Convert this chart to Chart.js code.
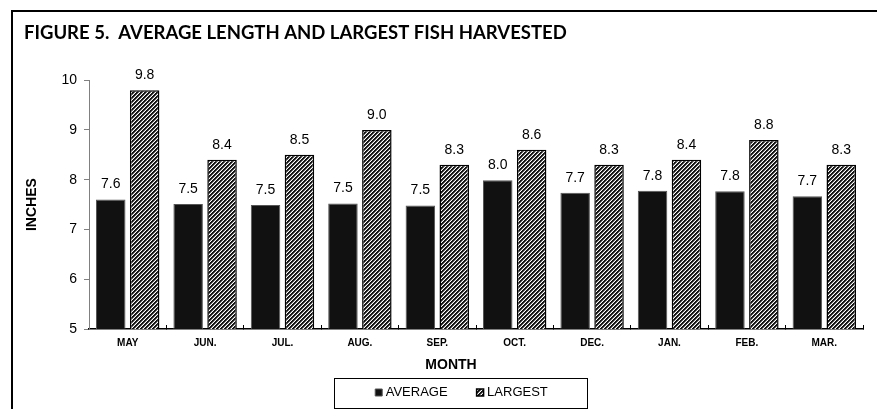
<!DOCTYPE html>
<html>
<head>
<meta charset="utf-8">
<script src="https://cdn.jsdelivr.net/npm/chart.js@4.4.1/dist/chart.umd.min.js"></script>
<style>
  html, body { margin: 0; padding: 0; background: #fff; overflow: hidden; }
  #wrap { position: relative; width: 877px; height: 409px; }
  #frame { position: absolute; left: 11px; top: 10px; width: 900px; height: 440px; border: 2px solid #000; }
  canvas { position: absolute; left: 0; top: 0; }
</style>
</head>
<body>
<div id="wrap">
  <div id="frame"></div>
  <canvas id="graf" width="877" height="409"></canvas>
</div>
<script>
// months on the x axis
const months = ["MAY", "JUN.", "JUL.", "AUG.", "SEP.", "OCT.", "DEC.", "JAN.", "FEB.", "MAR."];
// average length, inches
const average = [7.60, 7.51, 7.49, 7.52, 7.48, 7.99, 7.74, 7.78, 7.77, 7.67];
// largest fish, inches
const largest = [9.8, 8.4, 8.5, 9.0, 8.3, 8.6, 8.3, 8.4, 8.8, 8.3];
// y axis ticks
const yTicks = [5, 6, 7, 8, 9, 10];

const arial = "'Liberation Sans', Arial, sans-serif";
Chart.defaults.font.family = arial;
Chart.defaults.color = '#000';

const ctx = document.getElementById('graf').getContext('2d');

// diagonal hatch for the LARGEST bars
function hatch() {
  const shades = [20, 20, 120, 255];
  const c = document.createElement('canvas');
  c.width = 4; c.height = 4;
  const g = c.getContext('2d');
  const img = g.createImageData(4, 4);
  for (let y = 0; y < 4; y++) {
    for (let x = 0; x < 4; x++) {
      const i = (y * 4 + x) * 4;
      const v = shades[(x + y) % 4];
      img.data[i] = v; img.data[i + 1] = v; img.data[i + 2] = v; img.data[i + 3] = 255;
    }
  }
  g.putImageData(img, 0, 0);
  return ctx.createPattern(c, 'repeat');
}

// value above each bar
const valueLabels = {
  id: 'valueLabels',
  afterDatasetsDraw(chart) {
    const c = chart.ctx;
    c.save();
    c.font = "14px " + arial;
    c.fillStyle = '#000';
    c.textAlign = 'center';
    c.textBaseline = 'middle';
    chart.data.datasets.forEach((ds, i) => {
      chart.getDatasetMeta(i).data.forEach((bar, j) => {
        c.fillText(ds.data[j].toFixed(1), bar.x, bar.y - 15);
      });
    });
    c.restore();
  }
};

// legend sits a bit right of centre, with a box round it; MONTH title too
const legendX = 463;
const legendFrame = {
  id: 'legendFrame',
  afterLayout(chart) {
    const lg = chart.legend;
    const d = legendX - (lg.left + lg.right) / 2;
    lg.left += d;
    lg.right += d;
  },
  afterDraw(chart) {
    const c = chart.ctx;
    c.save();
    c.strokeStyle = '#000';
    c.lineWidth = 1;
    c.strokeRect(334.5, 378.5, 253, 30);
    c.font = "bold 14px " + arial;
    c.fillStyle = '#000';
    c.textAlign = 'center';
    c.textBaseline = 'middle';
    c.fillText('MONTH', 451, 365);
    c.restore();
  }
};

const data = {
  labels: months,
  datasets: [
    {
      label: 'AVERAGE',
      data: average,
      backgroundColor: '#111',
      borderColor: '#555',
      borderWidth: 1,
      categoryPercentage: 0.876,
      barPercentage: 0.87
    },
    {
      label: 'LARGEST',
      data: largest,
      backgroundColor: hatch(),
      borderColor: '#000',
      borderWidth: 1.5,
      categoryPercentage: 0.876,
      barPercentage: 0.87
    }
  ]
};

const config = {
  type: 'bar',
  data: data,
  plugins: [valueLabels, legendFrame],
  options: {
    responsive: false,
    animation: false,
    layout: { padding: { left: 24, right: 14, top: 0, bottom: 0 } },
    plugins: {
      title: {
        display: true,
        text: 'FIGURE 5.  AVERAGE LENGTH AND LARGEST FISH HARVESTED',
        align: 'start',
        color: '#000',
        font: { family: 'Lato', weight: 'bold', size: 18.5 },
        padding: { top: 22, bottom: 36 }
      },
      legend: {
        position: 'bottom',
        labels: {
          color: '#000',
          font: { size: 13 },
          usePointStyle: true,
          pointStyle: 'rect',
          boxWidth: 1,
          boxHeight: 7,
          padding: 32
        }
      },
      tooltip: { enabled: false }
    },
    scales: {
      x: {
        grid: { drawOnChartArea: false, tickLength: -4, color: '#000' },
        border: { color: '#000', width: 1.5 },
        ticks: { color: '#000', font: { size: 10, weight: 'bold' }, padding: 12 },
        afterFit(s) { s.height = 25; }
      },
      y: {
        min: 5,
        max: 10,
        afterBuildTicks(s) { s.ticks = yTicks.map(v => ({ value: v })); },
        grid: { drawOnChartArea: false, tickLength: 5, color: '#808080' },
        border: { color: '#808080', width: 1 },
        ticks: { color: '#000', font: { size: 14 }, padding: 7 },
        title: {
          display: true,
          text: 'INCHES',
          color: '#000',
          font: { size: 14, weight: 'bold' },
          padding: { top: 0, bottom: 0 }
        },
        afterFit(s) { s.width = 65; }
      }
    }
  }
};

new Chart(ctx, config);
</script>
</body>
</html>
